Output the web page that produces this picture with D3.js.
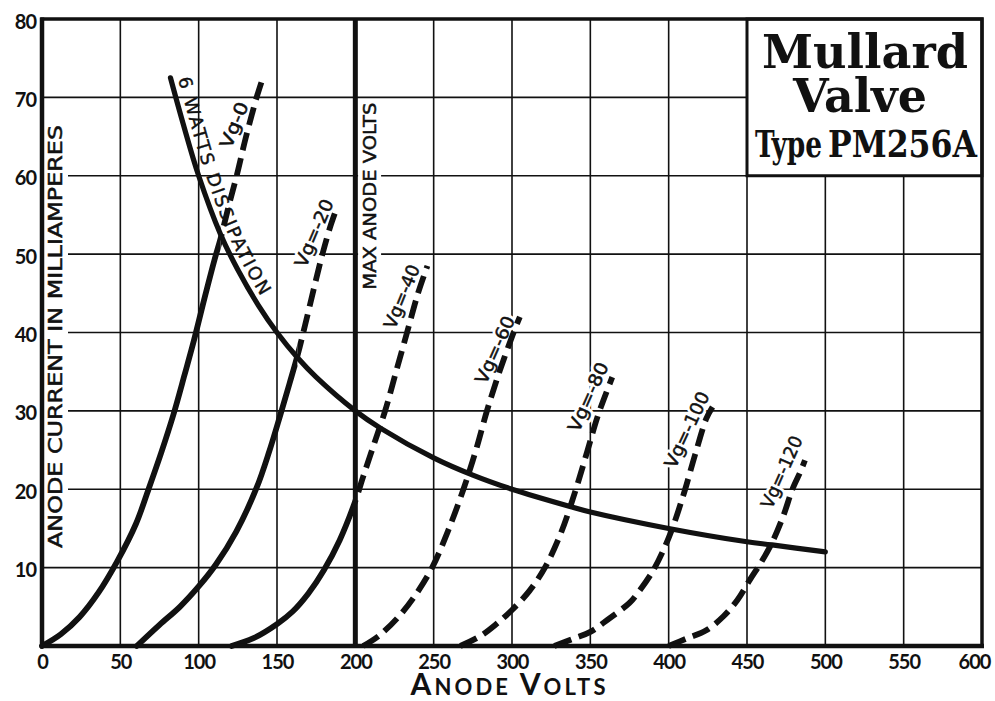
<!DOCTYPE html>
<html><head><meta charset="utf-8">
<script src="https://cdn.jsdelivr.net/npm/d3@7"></script>
<style>body{margin:0;background:#fff}svg{display:block}</style>
</head><body>
<svg id="c" width="995" height="701"></svg>
<script>
// ---------------- data ----------------
const xTicks = [0,50,100,150,200,250,300,350,400,450,500,550,600];
const yTicks = [10,20,30,40,50,60,70,80];
const gridX = [50,100,150,250,300,350,400,450,500,550];
const gridY = [10,20,30,40,50,60,70];

// anode characteristic curves [anode volts, anode mA]
const vg0   = [[0,0],[12,1.5],[24,3.7],[36,6.8],[48,10.8],[60,15.6],[68,20],[76,24.6],[84,29.6],[91,34.6],[97,39],[104,44.6],[110,49.2],[114,52],[119,56],[124.5,60.2],[130,64.8],[137,70],[141,72.5]];
const vg20  = [[60.5,0],[75,2.7],[88,5],[100,7.6],[111,10.4],[124,14.6],[137,20.2],[145,24.8],[152,29.4],[158,33.5],[163,37],[168,41],[174,46],[179,50],[184,53.5],[188,55.8]];
const vg40  = [[121,0],[135,1],[150,2.8],[160,4.4],[170,6.7],[180,9.7],[190,13.5],[200,18.5],[205,21.6],[212,25.8],[219,30],[226,35],[233,40],[240,45],[246,48.5]];
const vg60  = [[205,0],[215,1.3],[227,3.6],[238,6.4],[249,10],[259,14.6],[269,20],[277,25],[284,30],[292,35],[301,40],[305,42]];
const vg80  = [[267,0],[280,1.3],[290,2.8],[300,4.6],[311,7],[321,10],[331,14.3],[340,19.5],[348,24.8],[355,29.5],[364,34.3]];
const vg100 = [[327,0],[340,1],[350,1.8],[362,3.5],[375,5.5],[380,6.7],[390,9.6],[400,13.8],[409,19],[417,24.5],[424,29],[428,30.5]];
const vg120 = [[400,0],[412,1],[424,2],[435,3.8],[444,5.9],[452,8.5],[460,11],[466,13.2],[473,16.5],[479,20],[484,22.2],[487,23.7]];
const dissipation = [[82,72.5],[90,66.7],[100,60],[114,52.5],[125,48],[138,43.5],[150,40],[163,36.8],[175,34.3],[200,30],[216,27.8],[250,24],[275,21.8],[300,20],[337,17.8],[350,17.1],[400,15],[450,13.3],[466,12.9],[500,12]];
const seriesNames = ["Vg-0","Vg=-20","Vg=-40","Vg=-60","Vg=-80","Vg=-100","Vg=-120"];
const solidLimits = [114,163,200,0,0,0,0]; // curve drawn solid up to this anode voltage
const maxAnodeVolts = 200;
const titleLines = ["Mullard","Valve","Type","PM256A"];

// ---------------- layout (not data) ----------------
const labelCenters = [[122.5,66.5],[173.5,52.7],[229.5,44.6],[289,37.8],[348.5,31.8],[411.5,27.6],[472,22.2]];
const labelAngles  = [-68,-67,-68,-66,-66,-65,-66];
const labelLengths = [48,72,67,72,74,82,77];

const W=995,H=701,m={l:42,r:13,t:19,b:55};
const x=d3.scaleLinear().domain([0,600]).range([m.l,W-m.r]);
const y=d3.scaleLinear().domain([0,80]).range([H-m.b,m.t]);
const svg=d3.select('#c');
const ink='#111';
const defs=svg.append('defs');

const gGrid=svg.append('g');
const gUnder=svg.append('g');
const gBox=svg.append('g');
const gCurves=svg.append('g');
const gFrame=svg.append('g');
const gOver=svg.append('g');

// grid
gGrid.selectAll('line.v').data(gridX).join('line')
  .attr('x1',d=>x(d)).attr('x2',d=>x(d)).attr('y1',y(0)).attr('y2',y(80))
  .attr('stroke',ink).attr('stroke-width',1.6);
gGrid.selectAll('line.h').data(gridY).join('line')
  .attr('y1',d=>y(d)).attr('y2',d=>y(d)).attr('x1',x(0)).attr('x2',x(600))
  .attr('stroke',ink).attr('stroke-width',1.6);

// helper for rotated labels
function rotLabel(cx,cy,ang,txt,size,len,opts={}){
  const mk=(layer,halo)=>{
    const g=layer.append('g').attr('transform',`translate(${cx},${cy}) rotate(${ang})`);
    const t=g.append('text').attr('text-anchor','middle').attr('dominant-baseline','central')
      .attr('font-family','DejaVu Sans, sans-serif').attr('font-size',size)
      .attr('textLength',len).attr('lengthAdjust','spacingAndGlyphs').text(txt);
    if(halo){
      t.attr('fill','#fff').attr('stroke','#fff').attr('stroke-width',6).attr('stroke-linejoin','round');
      if(opts.rect){
        const b=t.node().getBBox();
        g.insert('rect','text').attr('x',b.x-3).attr('y',b.y-1).attr('width',b.width+6).attr('height',b.height+2).attr('fill','#fff');
      }
    } else t.attr('fill',ink).attr('stroke',ink).attr('stroke-width',0.5);
  };
  mk(gUnder,true); mk(gOver,false);
}

// Vg labels
seriesNames.forEach((n,i)=>{
  rotLabel(x(labelCenters[i][0]),y(labelCenters[i][1]),labelAngles[i],n,18,labelLengths[i]);
});
rotLabel(x(209.1),y(57.4),-90,'MAX ANODE VOLTS',18,187,{rect:true});
rotLabel(55,336.5,-90,'ANODE CURRENT IN MILLIAMPERES',20,423,{rect:true});

// title box
const bx=x(450),by=y(80),bw=x(600)-x(450),bh=y(60)-y(80);
gBox.append('rect').attr('x',bx).attr('y',by).attr('width',bw).attr('height',bh)
  .attr('fill','#fff').attr('stroke',ink).attr('stroke-width',3);
const serif='DejaVu Serif Condensed, DejaVu Serif, serif';
function tline(txt,xx,yy,size,len,anchor){
  gBox.append('text').attr('x',xx).attr('y',yy).attr('text-anchor',anchor)
    .attr('font-family',serif).attr('font-weight','bold').attr('font-size',size)
    .attr('textLength',len).attr('lengthAdjust','spacingAndGlyphs').attr('fill',ink).text(txt);
}
tline(titleLines[0],865,68,46,206,'middle');
tline(titleLines[1],860,112,46,134,'middle');
tline(titleLines[2],755,157,37,67,'start');
tline(titleLines[3],828,157,38,149,'start');

// curves (full path per grid voltage; solid part clipped left of limit, dashed right of it)
const line=d3.line().x(d=>x(d[0])).y(d=>y(d[1])).curve(d3.curveCatmullRom.alpha(0.5));
const curves=[vg0,vg20,vg40,vg60,vg80,vg100,vg120];
curves.forEach((pts,i)=>{
  const lim=solidLimits[i];
  const xl=x(lim);
  defs.append('clipPath').attr('id','cs'+i).append('rect').attr('x',0).attr('y',0).attr('width',xl).attr('height',H);
  defs.append('clipPath').attr('id','cd'+i).append('rect').attr('x',xl).attr('y',0).attr('width',W-xl).attr('height',H);
  if(lim>0) gCurves.append('path').attr('d',line(pts)).attr('fill','none').attr('clip-path',`url(#cs${i})`)
    .attr('stroke',ink).attr('stroke-width',5.8).attr('stroke-linecap','round');
  gCurves.append('path').attr('d',line(pts)).attr('fill','none').attr('clip-path',`url(#cd${i})`)
    .attr('stroke',ink).attr('stroke-width',5.8).attr('stroke-dasharray','18,8');
});
gCurves.append('path').attr('id','dissPath').attr('d',line(dissipation)).attr('fill','none')
  .attr('stroke',ink).attr('stroke-width',5.2).attr('stroke-linecap','round');
gCurves.append('line').attr('x1',x(maxAnodeVolts)).attr('x2',x(maxAnodeVolts)).attr('y1',y(0)).attr('y2',y(80))
  .attr('stroke',ink).attr('stroke-width',5);

// dissipation label along curve
gOver.append('text').attr('dy',-7).attr('font-family','DejaVu Sans, sans-serif').attr('font-size',18)
  .attr('letter-spacing',2.2).attr('fill',ink).attr('stroke',ink).attr('stroke-width',0.4)
  .append('textPath').attr('href','#dissPath').attr('startOffset',3).text('6 WATTS DISSIPATION');

// frame
gFrame.append('rect').attr('x',x(0)).attr('y',y(80)).attr('width',x(600)-x(0)).attr('height',y(0)-y(80))
  .attr('fill','none').attr('stroke',ink).attr('stroke-width',3.5);
gFrame.append('line').attr('x1',x(0)).attr('x2',x(0)).attr('y1',y(80)-1.5).attr('y2',y(0)+2).attr('stroke',ink).attr('stroke-width',4.5);
gFrame.append('line').attr('x1',x(0)-2).attr('x2',x(600)+2).attr('y1',y(0)).attr('y2',y(0)).attr('stroke',ink).attr('stroke-width',4.5);

// axes
const gx=gOver.append('g').attr('transform',`translate(0,${y(0)})`)
  .call(d3.axisBottom(x).tickValues(xTicks).tickSize(0).tickPadding(9).tickFormat(d3.format('d')));
const gy=gOver.append('g').attr('transform',`translate(${x(0)},0)`)
  .call(d3.axisLeft(y).tickValues(yTicks).tickSize(0).tickPadding(6).tickFormat(d3.format('d')));
[gx,gy].forEach(g=>{
  g.select('.domain').remove();
  g.selectAll('text').attr('font-family','Lato, sans-serif').attr('font-weight','bold')
    .attr('font-size',20).attr('letter-spacing',-1).attr('fill',ink);
});
gy.selectAll('text').attr('dy','0.45em');
gx.selectAll('.tick').filter(d=>d===600).select('text').attr('x',-8);

// x axis title (small caps style)
const xt=gOver.append('text').attr('x',508).attr('y',695).attr('text-anchor','middle')
  .attr('font-family','Lato, sans-serif').attr('font-weight','bold').attr('fill',ink)
  .attr('textLength',195).attr('lengthAdjust','spacing');
xt.append('tspan').attr('font-size',30).text('A');
xt.append('tspan').attr('font-size',22).text('NODE ');
xt.append('tspan').attr('font-size',30).text('V');
xt.append('tspan').attr('font-size',22).text('OLTS');
</script>
</body></html>
